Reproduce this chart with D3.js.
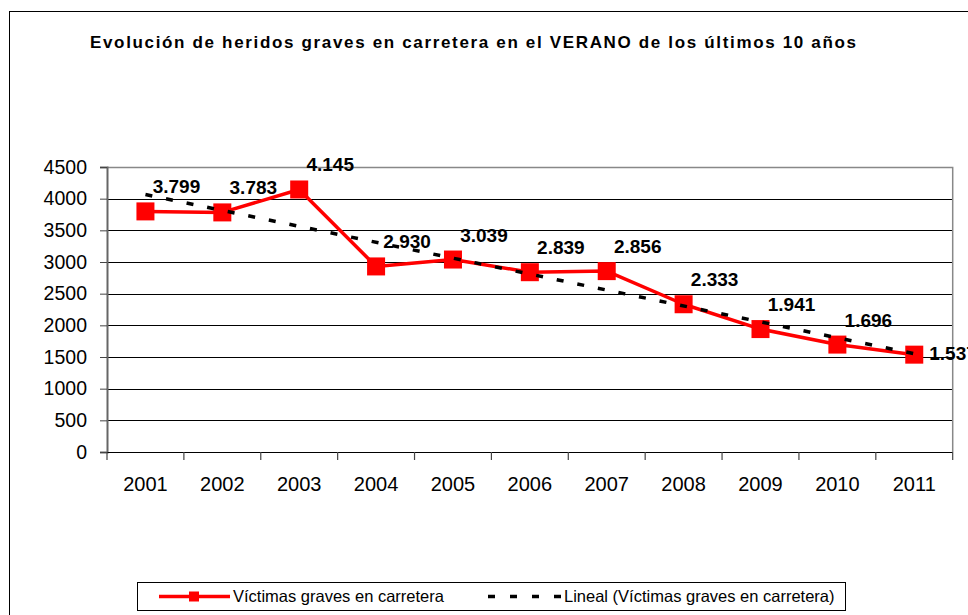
<!DOCTYPE html>
<html>
<head>
<meta charset="utf-8">
<script src="https://cdn.jsdelivr.net/npm/d3@7"></script>
<style>
  body { margin: 0; background: #fff; }
  svg { display: block; font-family: "Liberation Sans", Arial, sans-serif; }
</style>
</head>
<body>
<svg id="chart" width="968" height="615"></svg>
<script>
// data
const years = ["2001", "2002", "2003", "2004", "2005", "2006", "2007", "2008", "2009", "2010", "2011"];
const victims = [3799, 3783, 4145, 2930, 3039, 2839, 2856, 2333, 1941, 1696, 1537];
const yTicks = [0, 500, 1000, 1500, 2000, 2500, 3000, 3500, 4000, 4500];
const titleText = "Evolución de heridos graves en carretera en el VERANO de los últimos 10 años";
const seriesName = "Víctimas graves en carretera";
const trendName = "Lineal (Víctimas graves en carretera)";

let plot = {left: 107, right: 952.7, top: 167, bottom: 452};
var svg = d3.select("#chart");

var x = d3.scaleBand().domain(years).range([plot.left, plot.right]);
var y = d3.scaleLinear().domain([0, 4500]).range([plot.bottom, plot.top]);
function cx(d) { return x(d) + x.bandwidth() / 2; }

var fmt = d3.formatLocale({decimal: ",", thousands: ".", grouping: [3], currency: ["", ""]}).format(",");

// chart frame (runs off the right/bottom edge)
svg.append("rect").attr("x", 9.5).attr("y", 11.5).attr("width", 1000).attr("height", 700)
    .attr("fill", "none").attr("stroke", "#000").attr("stroke-width", 1);

svg.append("text").attr("x", 90).attr("y", 48)
    .attr("font-size", "17px").attr("font-weight", "bold")
    .attr("textLength", 766).attr("lengthAdjust", "spacing")
    .text(titleText);

// gridlines
svg.selectAll(".grid").data(yTicks.filter(t => t > 0 && t < 4500)).enter().append("line")
    .attr("class", "grid")
    .attr("x1", plot.left).attr("x2", plot.right)
    .attr("y1", d => Math.round(y(d)) + 0.5).attr("y2", d => Math.round(y(d)) + 0.5)
    .attr("stroke", "#000").attr("stroke-width", 1);

// plot area border top/right
svg.append("path")
    .attr("d", "M" + plot.left + "," + (y(4500) + 0.5) + "H" + plot.right + "V" + plot.bottom)
    .attr("fill", "none").attr("stroke", "#888").attr("stroke-width", 1.5);

// y axis
var yAxis = d3.axisLeft(y).tickValues(yTicks).tickSize(7).tickPadding(13).tickFormat(d3.format("d"));
var gy = svg.append("g").attr("transform", "translate(" + plot.left + ",0)").call(yAxis);
gy.select(".domain").attr("stroke", "#666").attr("stroke-width", 2);
gy.selectAll(".tick line").attr("stroke", "#444");
gy.selectAll("text").attr("font-size", "19.5px").attr("fill", "#000")
    .attr("font-family", "'Liberation Sans', Arial, sans-serif");

// x axis line + ticks on category boundaries
svg.append("line").attr("x1", plot.left).attr("x2", plot.right)
    .attr("y1", plot.bottom + 0.5).attr("y2", plot.bottom + 0.5)
    .attr("stroke", "#000").attr("stroke-width", 1.2);
var bounds = years.map(d => x(d)).concat([plot.right]);
svg.selectAll(".xtick").data(bounds).enter().append("line")
    .attr("class", "xtick")
    .attr("x1", d => d).attr("x2", d => d)
    .attr("y1", plot.bottom).attr("y2", plot.bottom + 8)
    .attr("stroke", "#444").attr("stroke-width", 1.2);
svg.selectAll(".xlab").data(years).enter().append("text")
    .attr("class", "xlab")
    .attr("x", cx).attr("y", 491)
    .attr("text-anchor", "middle").attr("font-size", "20px")
    .text(d => d);

// series line + square markers
var pts = years.map((d, i) => [cx(d), y(victims[i])]);
svg.append("path").attr("d", d3.line()(pts))
    .attr("fill", "none").attr("stroke", "#ff0000").attr("stroke-width", 3.5)
    .attr("stroke-linejoin", "round");
var ms = 18;
svg.selectAll(".marker").data(pts).enter().append("rect")
    .attr("class", "marker")
    .attr("x", d => d[0] - ms / 2).attr("y", d => d[1] - ms / 2)
    .attr("width", ms).attr("height", ms).attr("fill", "#ff0000");

// data labels, above right; last one sits to the right of its point
svg.selectAll(".vlab").data(victims).enter().append("text")
    .attr("class", "vlab")
    .attr("x", (d, i) => i == victims.length - 1 ? pts[i][0] + 15 : pts[i][0] + 31)
    .attr("y", (d, i) => i == victims.length - 1 ? pts[i][1] + 5 : pts[i][1] - 25 + 7)
    .attr("text-anchor", (d, i) => i == victims.length - 1 ? "start" : "middle")
    .attr("font-size", "19px").attr("font-weight", "bold")
    .text(d => fmt(d));

// linear trend (least squares on index)
var n = victims.length;
var mx = d3.mean(victims, (d, i) => i), my = d3.mean(victims);
var slope = d3.sum(victims, (d, i) => (i - mx) * (d - my)) / d3.sum(victims, (d, i) => (i - mx) * (i - mx));
var icpt = my - slope * mx;
svg.append("line")
    .attr("x1", cx(years[0])).attr("y1", y(icpt))
    .attr("x2", cx(years[n - 1])).attr("y2", y(icpt + slope * (n - 1)))
    .attr("stroke", "#000").attr("stroke-width", 3.5).attr("stroke-dasharray", "7,14");

// legend
var lg = svg.append("g");
lg.append("rect").attr("x", 137.5).attr("y", 582.5).attr("width", 708).attr("height", 28)
    .attr("fill", "#fff").attr("stroke", "#000").attr("stroke-width", 1);
lg.append("line").attr("x1", 159).attr("x2", 230).attr("y1", 596.5).attr("y2", 596.5)
    .attr("stroke", "#ff0000").attr("stroke-width", 3.5);
lg.append("rect").attr("x", 189).attr("y", 591.5).attr("width", 10).attr("height", 10).attr("fill", "#ff0000");
lg.append("text").attr("x", 233).attr("y", 602).attr("font-size", "16.5px").text(seriesName);
lg.append("line").attr("x1", 488).attr("x2", 562).attr("y1", 596.5).attr("y2", 596.5)
    .attr("stroke", "#000").attr("stroke-width", 3.5).attr("stroke-dasharray", "7,15");
lg.append("text").attr("x", 564).attr("y", 602).attr("font-size", "16.5px").text(trendName);
</script>
</body>
</html>
